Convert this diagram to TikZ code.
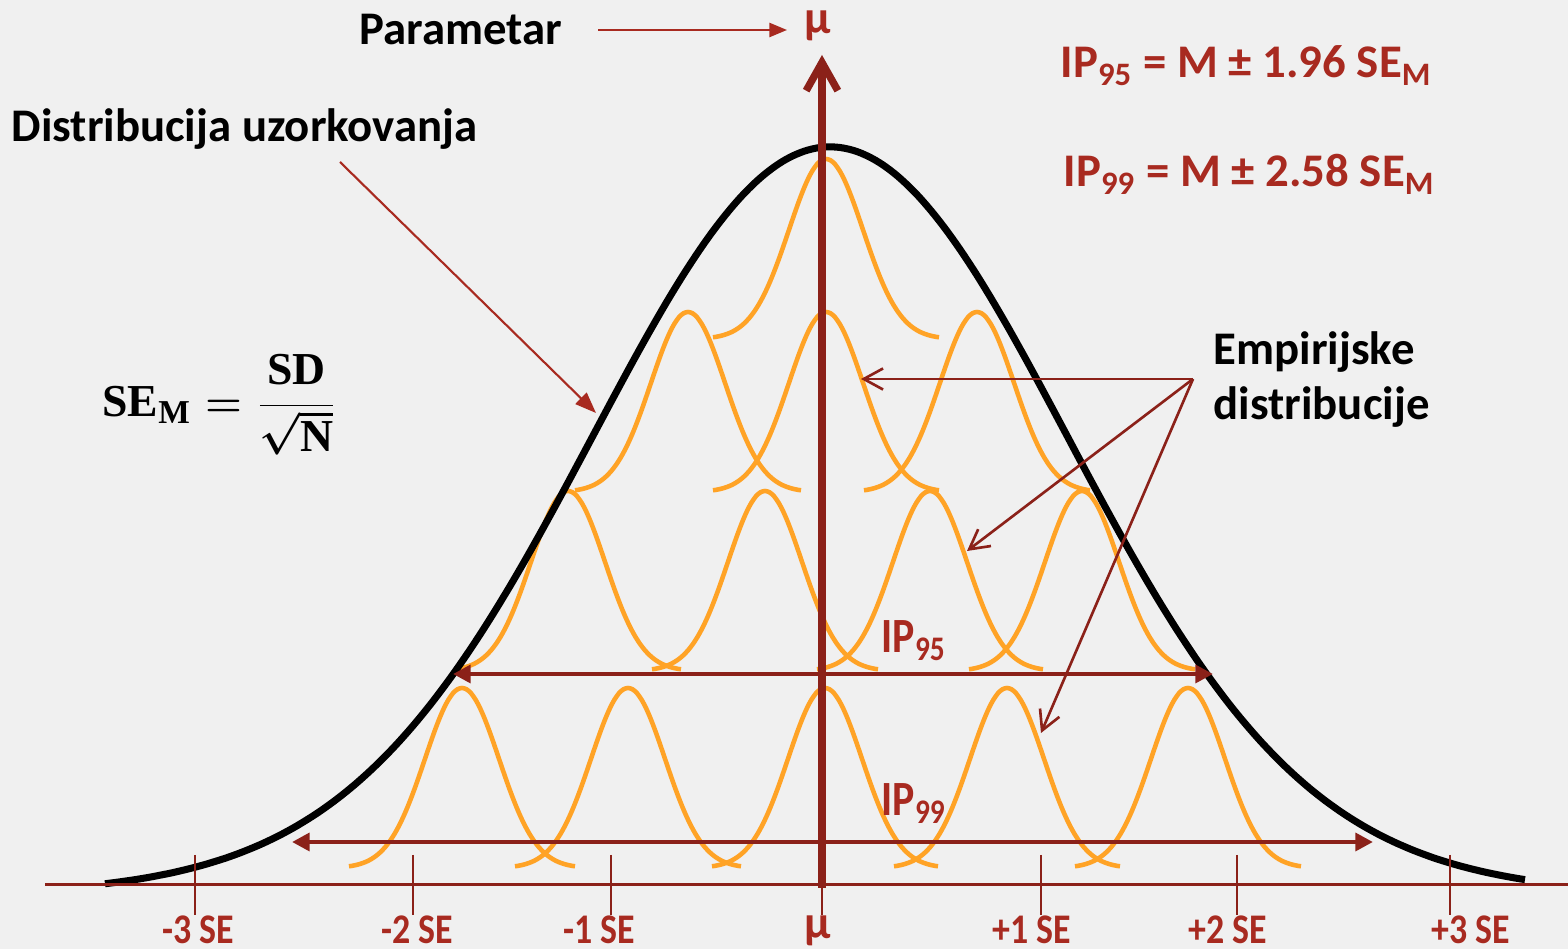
\documentclass[tikz,border=0pt]{standalone}
\usepackage[no-math]{fontspec}
\setmainfont{Carlito}
\newfontfamily\uskifont[FakeStretch=0.85]{Carlito}
\newfontfamily\formfont{Liberation Serif}
\usetikzlibrary{arrows.meta}
\definecolor{tamnocrvena}{HTML}{8B2119}
\definecolor{crvena}{HTML}{A82A20}
\definecolor{narandzasta}{HTML}{FFA326}
\definecolor{pozadina}{HTML}{F0F0F0}
% jedno zvono: centar, vrh
\newcommand{\bell}[2]{%
  \draw[bellline] plot[domain=-113:113, samples=51, smooth] ({#1+\x},{#2+180-180*exp(-0.5*(\x/37)^2)});}
% slova formule
\newcommand{\fslova}[1]{\hbox{\formfont\bfseries #1}}

\begin{document}
\begin{tikzpicture}[x=0.01cm, y=-0.01cm,
    bellline/.style={draw=narandzasta, line width=1.3pt},
    bigtext/.style={inner sep=0pt, font=\fontsize{13.3}{16}\selectfont\bfseries},
    iplabel/.style={inner sep=0pt, font=\uskifont\fontsize{14}{16}\selectfont\bfseries, text=crvena},
    ticklabel/.style={inner sep=0pt, font=\uskifont\fontsize{12}{14}\selectfont\bfseries, text=crvena},
    thinarrow/.style={tamnocrvena, line width=0.75pt, -{Straight Barb[length=5.5pt,width=6pt]}},
    redarrow/.style={crvena, line width=0.6pt, -{Triangle[length=5pt,width=4pt]}},
    iparrow/.style={tamnocrvena, line width=1.4pt, {Triangle[length=5pt,width=5pt]}-{Triangle[length=5pt,width=5pt]}}]
  % pozadina
  \fill[pozadina] (0,0) rectangle (1568,949);
  \useasboundingbox (0,0) rectangle (1568,949);
  % empirijske distribucije
  \bell{826}{159}
  \foreach \c in {688,826,977} {\bell{\c}{312}}
  \foreach \c in {568,765,930,1082} {\bell{\c}{491}}
  \foreach \c in {462,628,825,1007,1188} {\bell{\c}{688}}
  % distribucija uzorkovanja
  \draw[line width=2pt] plot[domain=105:1525, samples=200, smooth]
    (\x,{900-753*(0.94*exp(-0.5*((\x-830)/235)^2)+0.06*exp(-0.5*((\x-830)/420)^2))});
  % x osa i podeoci
  \coordinate (xl) at (45,885);
  \coordinate (xr) at (1568,885);
  \draw[tamnocrvena, line width=0.85pt] (xl) -- (xr);
  \foreach \t/\lx/\lab in {195/198/{-3 SE}, 413/417/{-2 SE}, 611/599/{-1 SE},
      1041/1032/{+1 SE}, 1237/1228/{+2 SE}, 1450/1471/{+3 SE}} {
    \draw[tamnocrvena, line width=0.7pt] (\t,855) -- (\t,915);
    \node[ticklabel, anchor=base] (lab\t) at (\lx,944) {\lab};
  }
  \draw[tamnocrvena, line width=0.7pt] (822,885) -- (822,915);
  \node[bigtext, text=crvena, anchor=base] (muBot) at (818,939) {μ};
  % y osa
  \coordinate (yb) at (822,888);
  \coordinate (yt) at (822,55);
  \draw[tamnocrvena, line width=2.1pt, -{Straight Barb[length=8pt,width=9pt]}] (yb) -- (yt);
  % intervali poverenja
  \coordinate (ip95l) at (453,674);
  \coordinate (ip95r) at (1213,674);
  \coordinate (ip99l) at (292,842);
  \coordinate (ip99r) at (1373,842);
  \draw[iparrow] (ip95l) -- (ip95r);
  \draw[iparrow] (ip99l) -- (ip99r);
  \node[iplabel, anchor=base west] (ip95) at (881,653) {IP\textsubscript{95}};
  \node[iplabel, anchor=base west] (ip99) at (881,816) {IP\textsubscript{99}};
  % parametar
  \node[bigtext, text=crvena, anchor=base] (muTop) at (818,34) {μ};
  \node[bigtext, anchor=base west] (param) at (359,45) {Parametar};
  \coordinate (parA) at (598,30);
  \coordinate (parB) at (787,30);
  \draw[redarrow] (parA) -- (parB);
  % distribucija uzorkovanja
  \node[bigtext, anchor=base west] (distUz) at (11,142) {Distribucija uzorkovanja};
  \coordinate (distA) at (340,162);
  \coordinate (distB) at (596,413);
  \draw[redarrow, -{Triangle[length=6pt,width=4.5pt]}] (distA) -- (distB);
  % formule
  \node[bigtext, text=crvena, anchor=base west] (f95) at (1060,78) {IP\textsubscript{95} = M ± 1.96 SE\textsubscript{M}};
  \node[bigtext, text=crvena, anchor=base west] (f99) at (1063,187) {IP\textsubscript{99} = M ± 2.58 SE\textsubscript{M}};
  \node[inner sep=0pt] (sem) at (220,405) {{\boldmath\fontsize{13}{15}\selectfont$\displaystyle
    \fslova{SE}_{\hbox{\formfont\bfseries\fontsize{9.5}{10}\selectfont M}} = \frac{\fslova{SD}}{\sqrt{\fslova{N}}}$}};
  % empirijske
  \node[bigtext, anchor=base west] (emp1) at (1213,365) {Empirijske};
  \node[bigtext, anchor=base west] (emp2) at (1213,420) {distribucije};
  \coordinate (empK) at (1193,379);
  \coordinate (empA) at (861,379);
  \coordinate (empB) at (967,551);
  \coordinate (empC) at (1041,733);
  \foreach \p in {empA,empB,empC} {\draw[thinarrow] (empK) -- (\p);}
\end{tikzpicture}
\end{document}
